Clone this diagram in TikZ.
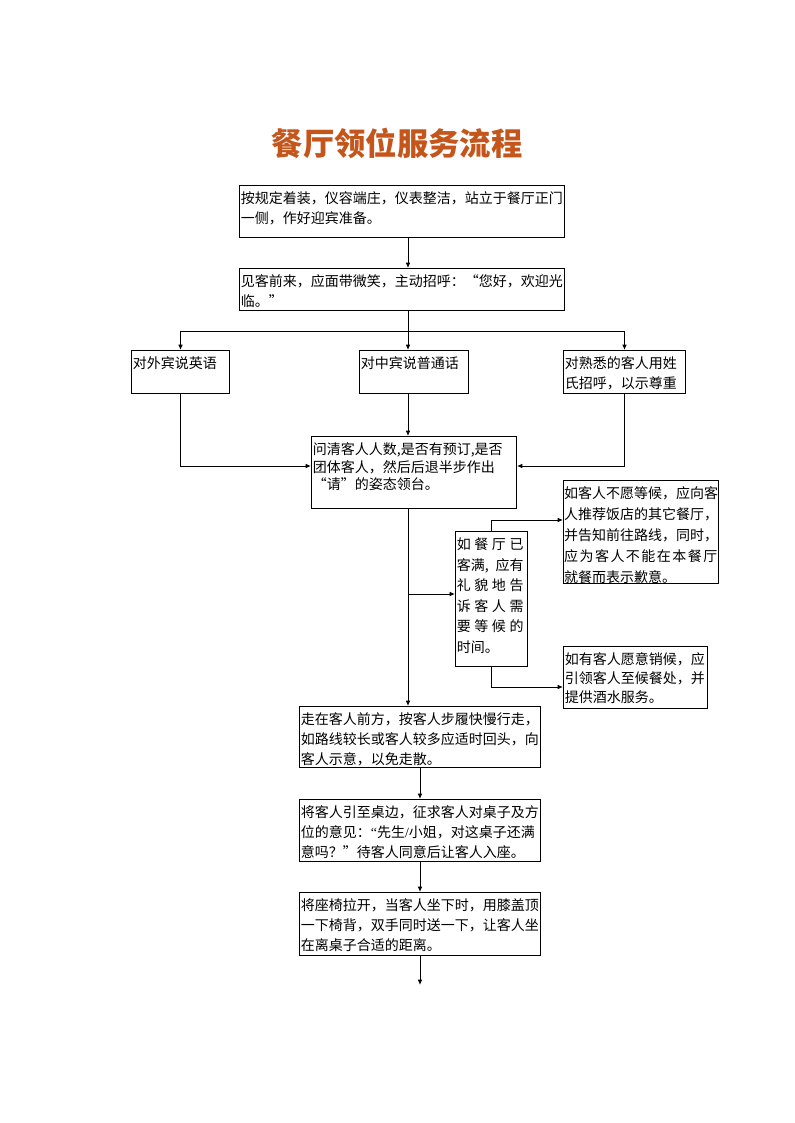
\documentclass[tikz,border=0pt]{standalone}
\usepackage{fontspec}
\setmainfont{Noto Sans CJK SC}
\newfontfamily\latq{Liberation Serif}
\usetikzlibrary{arrows.meta,calc}
\definecolor{titlec}{HTML}{C4561C}
\begin{document}
\begin{tikzpicture}[x=0.75pt,y=-0.75pt,
  boxs/.style={draw,line width=0.75pt,inner sep=0pt,anchor=north west},
  txt/.style={anchor=north west,inner xsep=1.2pt,inner ysep=5pt,align=left,
    font=\fontsize{10.5pt}{15pt}\selectfont},
  conn/.style={line width=0.75pt},
  arr/.style={conn,-{Latex[length=4pt,width=3.5pt]}}]
\useasboundingbox (0,0) rectangle (794,1123);
\node[font=\fontsize{23.5pt}{26pt}\selectfont\bfseries,text=titlec] (title) at (397,143) {餐厅领位服务流程};
% boxes
\node[boxs,minimum width=243.75pt,minimum height=39pt] (b1) at (239,185) {};
\node[txt] (b1t) at (b1.north west) {按规定着装，仪容端庄，仪表整洁，站立于餐厅正门\\一侧，作好迎宾准备。};
\node[boxs,minimum width=243.75pt,minimum height=31.5pt] (b2) at (239,268) {};
\node[txt] (b2t) at (b2.north west) {见客前来，应面带微笑，主动招呼：“您好，欢迎光\\临。”};
\node[boxs,minimum width=73.5pt,minimum height=32.25pt] (b3a) at (131,350) {};
\node[txt] (b3at) at (b3a.north west) {对外宾说英语};
\node[boxs,minimum width=81.75pt,minimum height=32.25pt] (b3b) at (359,350) {};
\node[txt] (b3bt) at (b3b.north west) {对中宾说普通话};
\node[boxs,minimum width=91.5pt,minimum height=32.25pt] (b3c) at (563,350) {};
\node[txt] (b3ct) at (b3c.north west) {对熟悉的客人用姓\\氏招呼，以示尊重};
\node[boxs,minimum width=153.75pt,minimum height=54pt] (b4) at (311,436) {};
\node[txt,font=\fontsize{10.5pt}{13pt}\selectfont] (b4t) at (b4.north west) {问清客人人数,是否有预订,是否\\团体客人，然后后退半步作出\\“请”的姿态领台。};
\node[boxs,minimum width=54pt,minimum height=101.25pt] (bs) at (455,531) {};
\node[txt,font=\fontsize{10.5pt}{15.4pt}\selectfont] (bst) at (bs.north west) {\makebox[50pt][s]{如\hfil 餐\hfil 厅\hfil 已}\\\makebox[50pt][s]{客满,\hfil 应有}\\\makebox[50pt][s]{礼\hfil 貌\hfil 地\hfil 告}\\\makebox[50pt][s]{诉\hfil 客\hfil 人\hfil 需}\\\makebox[50pt][s]{要\hfil 等\hfil 候\hfil 的}\\时间。};
\node[boxs,minimum width=116.25pt,minimum height=77.25pt] (br1) at (563,480) {};
\node[txt,inner xsep=0.6pt,font=\fontsize{10.5pt}{15.75pt}\selectfont] (br1t) at (br1.north west) {如客人不愿等候，应向客\\人推荐饭店的其它餐厅，\\并告知前往路线，同时，\\\makebox[115pt][s]{应\hfil 为\hfil 客\hfil 人\hfil 不\hfil 能\hfil 在\hfil 本\hfil 餐\hfil 厅}\\就餐而表示歉意。};
\node[boxs,minimum width=108pt,minimum height=46.5pt] (br2) at (563,646) {};
\node[txt,font=\fontsize{10.5pt}{14.25pt}\selectfont] (br2t) at (br2.north west) {如有客人愿意销候，应\\引领客人至候餐处，并\\提供酒水服务。};
\node[boxs,minimum width=180.75pt,minimum height=45.75pt] (b5) at (299,706) {};
\node[txt] (b5t) at (b5.north west) {走在客人前方，按客人步履快慢行走，\\如路线较长或客人较多应适时回头，向\\客人示意，以免走散。};
\node[boxs,minimum width=180.75pt,minimum height=46.5pt] (b6) at (299,799) {};
\node[txt] (b6t) at (b6.north west) {将客人引至桌边，征求客人对桌子及方\\位的意见：{\latq “}先生{\latq /}小姐，对这桌子还满\\意吗？”待客人同意后让客人入座。};
\node[boxs,minimum width=180.75pt,minimum height=47.25pt] (b7) at (299,892) {};
\node[txt] (b7t) at (b7.north west) {将座椅拉开，当客人坐下时，用膝盖顶\\一下椅背，双手同时送一下，让客人坐\\在离桌子合适的距离。};
% helper coordinates
\coordinate (cx) at (408,0);
\coordinate (split) at (408,331);
\coordinate (j4) at (0,466);
\coordinate (jb) at (0,594);
\coordinate (bsx) at (491,0);
\coordinate (j5) at (0,520);
\coordinate (j6) at (0,687);
\coordinate (endp) at (420,985);
% connectors
\draw[arr] (b1.south -| cx) -- (b2.north -| cx);
\draw[conn] (b2.south -| cx) -- (split);
\draw[conn] (b3a.north |- split) -- (b3c.north |- split);
\draw[arr] (b3a.north |- split) -- (b3a.north);
\draw[arr] (split) -- (b3b.north -| cx);
\draw[arr] (b3c.north |- split) -- (b3c.north);
\draw[arr] (b3a.south) |- (b4.west |- j4);
\draw[arr] (b3b.south -| cx) -- (b4.north -| cx);
\draw[arr] (b3c.south) |- (b4.east |- j4);
\draw[arr] (b4.south -| cx) -- (b5.north -| cx);
\draw[arr] (cx |- jb) -- (bs.west |- jb);
\draw[arr] (bs.north -| bsx) |- (br1.west |- j5);
\draw[arr] (bs.south -| bsx) |- (br2.west |- j6);
\draw[arr] (b5.south) -- (b6.north);
\draw[arr] (b6.south) -- (b7.north);
\draw[arr] (b7.south) -- (endp);
\end{tikzpicture}
\end{document}
